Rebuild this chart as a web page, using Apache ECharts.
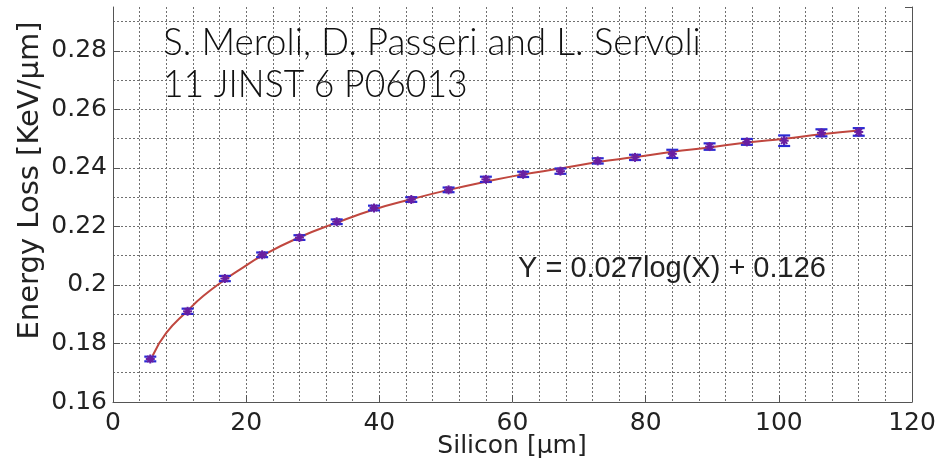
<!DOCTYPE html>
<html><head><meta charset="utf-8">
<script src="https://cdn.jsdelivr.net/npm/echarts@6/dist/echarts.min.js"></script>
<style>html,body{margin:0;padding:0;background:#fff}#c{width:949px;height:466px}</style>
</head><body><div id="c"></div>
<script>
// ---- data ----
const thickness = [5.6, 11.2, 16.8, 22.4, 28, 33.6, 39.2, 44.8, 50.4, 56, 61.6, 67.2, 72.8, 78.4, 84, 89.6, 95.2, 100.8, 106.4, 112];
const energyLoss = [0.1747, 0.1910, 0.2022, 0.2103, 0.2162, 0.2216, 0.2263, 0.2292, 0.2325, 0.2361, 0.2378, 0.2389, 0.2424, 0.2436, 0.2448, 0.2473, 0.2489, 0.2493, 0.2520, 0.2523];
const energyErr = [0.0008, 0.0009, 0.0009, 0.0008, 0.0008, 0.0008, 0.0008, 0.0008, 0.0008, 0.0009, 0.0009, 0.0009, 0.0009, 0.0009, 0.0014, 0.0011, 0.0010, 0.0018, 0.0012, 0.0013];
const fitX = [5.95, 8.0, 11.2, 13.55, 16.8, 19.1, 22.4, 28, 33.6, 39.2, 44.8, 50.4, 56, 61.6, 67.2, 72.8, 78.4, 84, 89.6, 95.2, 100.8, 106.4, 112];
const fitY = [0.1758, 0.1836, 0.1912, 0.1962, 0.2018, 0.2053, 0.2100, 0.2163, 0.2213, 0.2258, 0.2293, 0.2325, 0.2353, 0.2378, 0.2398, 0.2420, 0.2437, 0.2455, 0.2470, 0.2487, 0.2500, 0.2515, 0.2528];
const xTickLabels = ['0', '20', '40', '60', '80', '100', '120'];
const yTickLabels = ['0.16', '0.18', '0.2', '0.22', '0.24', '0.26', '0.28'];
const authorLines = ['S. Meroli, D. Passeri and L. Servoli', '11 JINST 6 P06013'];
const fitLabel = 'Y = 0.027log(X) + 0.126';
const xName = 'Silicon [\u03bcm]';
const yName = 'Energy Loss [KeV/\u03bcm]';

// ---- chart ----
const chart = echarts.init(document.getElementById('c'), null, {renderer: 'canvas'});
const gridLine = {show: true, lineStyle: {color: '#707070', type: [2, 2], width: 1}};
const axisFont = {fontFamily: 'DejaVu Sans', fontSize: 25, color: '#222'};

const option = {
  animation: false,
  backgroundColor: '#ffffff',
  grid: {left: 113, right: 37, top: 7, bottom: 64, containLabel: false},
  xAxis: {
    type: 'value', min: 0, max: 120, interval: 20,
    axisLine: {show: true, onZero: false, lineStyle: {color: '#555', width: 1}},
    axisTick: {show: true, inside: true, length: 7, lineStyle: {color: '#555'}},
    axisLabel: Object.assign({margin: 9, formatter: v => xTickLabels[Math.round(v / 20)] || ''}, axisFont),
    splitLine: gridLine,
    minorTick: {show: false, splitNumber: 5},
    minorSplitLine: gridLine
  },
  yAxis: [{
    type: 'value', min: 0.16, max: 0.295, interval: 0.02,
    axisLine: {show: true, lineStyle: {color: '#555', width: 1}},
    axisTick: {show: true, inside: true, length: 7, lineStyle: {color: '#555'}},
    axisLabel: Object.assign({margin: 6, showMaxLabel: false, formatter: v => {
      const i = Math.round((v - 0.16) / 0.02);
      return Math.abs(v - (0.16 + i * 0.02)) < 1e-6 ? (yTickLabels[i] || '') : '';
    }}, axisFont),
    splitLine: Object.assign({showMaxLine: false}, gridLine),
    minorTick: {show: false, splitNumber: 2},
    minorSplitLine: gridLine
  }, {
    type: 'value', position: 'right', min: 0.16, max: 0.295, interval: 0.02,
    axisLine: {show: true, lineStyle: {color: '#555', width: 1}},
    axisTick: {show: true, inside: true, length: 7, lineStyle: {color: '#555'}},
    axisLabel: {show: false},
    splitLine: {show: false}
  }],
  series: [{
    type: 'line',
    data: fitX.map((x, i) => [x, fitY[i]]),
    smooth: 0.5,
    showSymbol: false,
    lineStyle: {color: '#c0473f', width: 2},
    z: 2
  }, {
    type: 'custom',
    data: thickness.map((x, i) => [x, energyLoss[i], energyErr[i]]),
    encode: {x: 0, y: 1},
    z: 3,
    renderItem: function (params, api) {
      const x = api.value(0), y = api.value(1), e = api.value(2);
      const hi = api.coord([x, y + e]), lo = api.coord([x, y - e]), c = api.coord([x, y]);
      const cw = 6, r = 4.5;
      const eb = {stroke: '#2a2ad4', lineWidth: 2.2};
      const mk = {stroke: '#6a1fa0', lineWidth: 2};
      return {type: 'group', children: [
        {type: 'line', shape: {x1: hi[0], y1: hi[1], x2: lo[0], y2: lo[1]}, style: eb},
        {type: 'line', shape: {x1: hi[0] - cw, y1: hi[1], x2: hi[0] + cw, y2: hi[1]}, style: eb},
        {type: 'line', shape: {x1: lo[0] - cw, y1: lo[1], x2: lo[0] + cw, y2: lo[1]}, style: eb},
        {type: 'line', shape: {x1: c[0] - r, y1: c[1], x2: c[0] + r, y2: c[1]}, style: mk},
        {type: 'line', shape: {x1: c[0], y1: c[1] - r, x2: c[0], y2: c[1] + r}, style: mk},
        {type: 'line', shape: {x1: c[0] - r * 0.7, y1: c[1] - r * 0.7, x2: c[0] + r * 0.7, y2: c[1] + r * 0.7}, style: mk},
        {type: 'line', shape: {x1: c[0] - r * 0.7, y1: c[1] + r * 0.7, x2: c[0] + r * 0.7, y2: c[1] - r * 0.7}, style: mk}
      ]};
    }
  }],
  graphic: [
    {type: 'text', x: 163, y: 43.5, z: 10,
     style: {text: authorLines[0], font: '300 37px Lato', fill: '#111', verticalAlign: 'middle'}},
    {type: 'text', x: 163, y: 85.5, z: 10, scaleX: 0.96,
     style: {text: authorLines[1], font: '300 37px Lato', fill: '#111', verticalAlign: 'middle'}},
    {type: 'text', x: 518, y: 268.5, z: 10,
     style: {text: fitLabel, font: '29px "Liberation Sans"', fill: '#222', verticalAlign: 'middle'}},
    {type: 'text', x: 512, y: 446, z: 10,
     style: {text: xName, font: '25px "DejaVu Sans"', fill: '#222', align: 'center', verticalAlign: 'middle'}},
    {type: 'text', x: 30, y: 180.5, rotation: Math.PI / 2, z: 10,
     style: {text: yName, font: '29px "DejaVu Sans"', fill: '#222', align: 'center', verticalAlign: 'middle'}}
  ]
};
chart.setOption(option);
</script>
</body></html>
